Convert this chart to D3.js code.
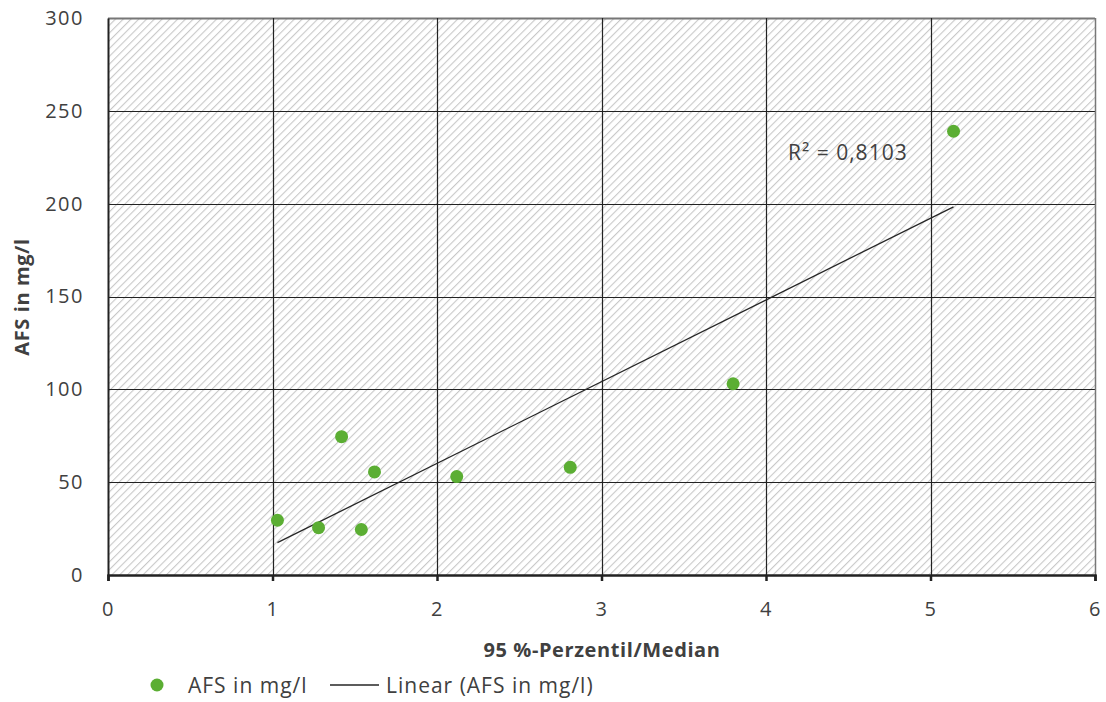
<!DOCTYPE html>
<html>
<head>
<meta charset="utf-8">
<script src="https://cdn.jsdelivr.net/npm/d3@7"></script>
<style>
  body { margin: 0; background: #fff; }
  text { font-family: "Open Sans", "Noto Sans", sans-serif; fill: #404040; }
</style>
</head>
<body>
<div id="plot"></div>
<script>
// data
var ratio = [1.03, 1.28, 1.42, 1.54, 1.62, 2.12, 2.81, 3.80, 5.14];
var afs = [29.5, 25.5, 74.5, 24.5, 55.5, 53, 58, 103, 239];
var xTicks = [0, 1, 2, 3, 4, 5, 6];
var yTicks = [0, 50, 100, 150, 200, 250, 300];
var r2Label = "R² = 0,8103";

var W = 1106, H = 702;
var margin = {top: 18, right: 11, bottom: 127, left: 108},
    width = W - margin.left - margin.right,
    height = H - margin.top - margin.bottom;

var svg = d3.select("#plot").append("svg")
  .attr("width", W).attr("height", H);

// hatch pattern
var defs = svg.append("defs");
var pat = defs.append("pattern")
  .attr("id", "hatch")
  .attr("patternUnits", "userSpaceOnUse")
  .attr("width", 5.5).attr("height", 5.5)
  .attr("patternTransform", "rotate(45)");
pat.append("rect").attr("width", 5.5).attr("height", 5.5).attr("fill", "#fff");
pat.append("line")
  .attr("x1", 0).attr("y1", 0).attr("x2", 0).attr("y2", 5.5)
  .attr("stroke", "#c8c8c8").attr("stroke-width", 2.2);

var g = svg.append("g")
  .attr("transform", "translate(" + margin.left + "," + margin.top + ")");

var x = d3.scaleLinear().domain([0, 6]).range([0, width]);
var y = d3.scaleLinear().domain([0, 300]).range([height, 0]);

// background
g.append("rect")
  .attr("width", width).attr("height", height)
  .attr("fill", "url(#hatch)");

// grid
g.append("g").selectAll("line.h")
  .data(yTicks.slice(1))
  .enter().append("line")
  .attr("x1", 0).attr("x2", width)
  .attr("y1", function(d){ return Math.round(y(d)) + 0.5; })
  .attr("y2", function(d){ return Math.round(y(d)) + 0.5; })
  .attr("stroke", function(d){ return d == 300 ? "#777" : "#222"; })
  .attr("stroke-width", function(d){ return d == 300 ? 2 : 1.2; });

g.append("g").selectAll("line.v")
  .data(xTicks.slice(1))
  .enter().append("line")
  .attr("y1", 0).attr("y2", height)
  .attr("x1", function(d){ return Math.round(x(d)) + 0.5; })
  .attr("x2", function(d){ return Math.round(x(d)) + 0.5; })
  .attr("stroke", function(d){ return d == 6 ? "#777" : "#222"; })
  .attr("stroke-width", function(d){ return d == 6 ? 1.5 : 1.2; });

// x axis
var xAxis = g.append("g")
  .attr("transform", "translate(0," + height + ")")
  .call(d3.axisBottom(x).tickValues(xTicks).tickSize(6).tickPadding(21).tickFormat(d3.format("d")));
xAxis.select(".domain").attr("stroke", "#222").attr("stroke-width", 2.5);
xAxis.selectAll(".tick line").attr("stroke", "#222").attr("stroke-width", 2.5);
xAxis.selectAll("text").style("font-size", "20px").attr("fill", "#404040")
  .style("font-family", '"Open Sans", sans-serif').style("letter-spacing", "1.5px");

// y axis
var yAxis = g.append("g")
  .call(d3.axisLeft(y).tickValues(yTicks).tickSize(0).tickPadding(24).tickFormat(d3.format("d")));
yAxis.select(".domain").attr("stroke", "#222").attr("stroke-width", 2);
yAxis.selectAll("text").style("font-size", "20px").attr("fill", "#404040")
  .style("font-family", '"Open Sans", sans-serif').style("letter-spacing", "1.5px");

// linear regression
var n = ratio.length;
var mx = d3.mean(ratio), my = d3.mean(afs);
var sxy = 0, sxx = 0;
for (var i = 0; i < n; i++) {
  sxy += (ratio[i] - mx) * (afs[i] - my);
  sxx += (ratio[i] - mx) * (ratio[i] - mx);
}
var slope = sxy / sxx, icpt = my - slope * mx;
var x0 = d3.min(ratio), x1 = d3.max(ratio);

g.append("line")
  .attr("x1", x(x0)).attr("y1", y(icpt + slope * x0))
  .attr("x2", x(x1)).attr("y2", y(icpt + slope * x1))
  .attr("stroke", "#262626").attr("stroke-width", 1.3);

// points
g.append("g").selectAll("circle")
  .data(ratio)
  .enter().append("circle")
  .attr("cx", function(d){ return x(d); })
  .attr("cy", function(d, i){ return y(afs[i]); })
  .attr("r", 6.5)
  .attr("fill", "#5bae33");

// R² label
g.append("text")
  .attr("x", 788 - margin.left).attr("y", 160 - margin.top)
  .style("font-size", "21px").style("letter-spacing", "1px")
  .text(r2Label);

// axis titles
svg.append("text")
  .attr("x", 602).attr("y", 657)
  .attr("text-anchor", "middle")
  .style("font-size", "20px").style("font-weight", "bold").style("letter-spacing", "0.6px")
  .text("95 %-Perzentil/Median");

svg.append("text")
  .attr("transform", "translate(29,297) rotate(-90)")
  .attr("text-anchor", "middle")
  .style("font-size", "20px").style("font-weight", "bold").style("letter-spacing", "0.6px")
  .text("AFS in mg/l");

// legend
svg.append("circle").attr("cx", 157).attr("cy", 685).attr("r", 6.5).attr("fill", "#5bae33");
svg.append("text").attr("x", 188).attr("y", 693)
  .style("font-size", "21px").style("letter-spacing", "1px").text("AFS in mg/l");
svg.append("line").attr("x1", 330).attr("x2", 379).attr("y1", 685).attr("y2", 685)
  .attr("stroke", "#262626").attr("stroke-width", 1.3);
svg.append("text").attr("x", 386).attr("y", 693)
  .style("font-size", "21px").style("letter-spacing", "1px").text("Linear (AFS in mg/l)");
</script>
</body>
</html>
